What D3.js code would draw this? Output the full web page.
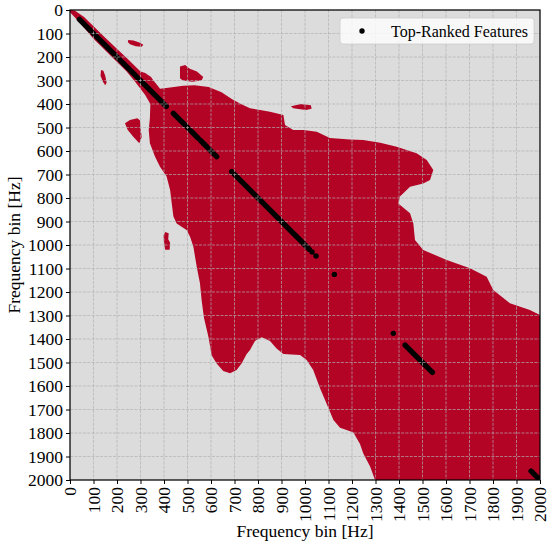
<!DOCTYPE html>
<html>
<head>
<meta charset="utf-8">
<script src="https://cdn.jsdelivr.net/npm/d3@7"></script>
<style>
  body { margin: 0; background: #fff; }
  svg text { font-family: "Liberation Serif", "Times New Roman", serif !important; }
</style>
</head>
<body>
<div id="chart"></div>
<script>
// tick values for both axes (Hz)
const binTicks = [0, 100, 200, 300, 400, 500, 600, 700, 800, 900, 1000,
                  1100, 1200, 1300, 1400, 1500, 1600, 1700, 1800, 1900, 2000];

// outline of the significant (red) area, [x bin, y bin] in Hz
const maskOutline = [
  [0, 0], [20, 2], [60, 30], [150, 118], [250, 213], [300, 262], [320, 268],
  [345, 285], [355, 300], [370, 318], [383, 335],
  [426, 330], [482, 322], [530, 320], [590, 328], [645, 350], [690, 380],
  [723, 398], [766, 418], [809, 426], [851, 433], [908, 447], [915, 489],
  [950, 511], [993, 511], [1050, 518], [1106, 545], [1191, 551], [1248, 553],
  [1320, 565], [1390, 582], [1475, 610], [1518, 638], [1546, 681], [1532, 723],
  [1503, 738], [1447, 752], [1404, 794], [1397, 823], [1447, 865], [1461, 908],
  [1468, 979], [1503, 1021], [1603, 1064], [1702, 1099], [1773, 1135],
  [1801, 1191], [1872, 1248], [1957, 1277], [2000, 1298],
  [2000, 2000], [1298, 2000],
  [1277, 1943], [1248, 1887], [1234, 1847], [1206, 1798], [1177, 1787],
  [1149, 1778], [1121, 1745], [1092, 1675], [1064, 1610], [1035, 1532],
  [1007, 1489], [979, 1468], [908, 1464], [879, 1440], [851, 1408], [816, 1393],
  [787, 1408], [766, 1447], [752, 1464], [730, 1504], [709, 1532], [681, 1546],
  [652, 1536], [624, 1504], [603, 1470], [589, 1390], [570, 1310], [560, 1234],
  [553, 1163], [539, 1092], [525, 1007], [511, 965], [496, 936], [454, 908],
  [440, 879], [433, 823], [426, 766], [411, 709], [383, 667], [362, 624],
  [340, 567], [335, 511], [340, 460], [342, 400], [320, 362], [277, 305],
  [241, 262], [100, 122], [40, 52], [0, 10]
];

// small detached patches
const maskIslands = [
  [[248, 128], [270, 130], [295, 138], [312, 148], [305, 156], [280, 154], [255, 146], [246, 136]],
  [[132, 255], [142, 258], [150, 280], [156, 310], [150, 320], [140, 305], [130, 280]],
  [[468, 240], [490, 234], [510, 250], [540, 262], [567, 285], [560, 300], [520, 305], [480, 300], [468, 290]],
  [[287, 461], [255, 468], [234, 482], [245, 510], [270, 540], [295, 567], [305, 540], [300, 500], [298, 470]],
  [[940, 410], [960, 405], [980, 400], [1000, 402], [1025, 405], [1028, 420], [1005, 426], [980, 422], [950, 418]],
  [[405, 945], [420, 950], [418, 975], [426, 990], [424, 1020], [405, 1020], [400, 990], [398, 960]]
];

// top-ranked features lie on the diagonal: consecutive runs and lone bins (Hz)
const featureRuns = [[40, 410], [440, 505], [515, 545], [555, 582], [592, 624],
                     [688, 1018], [1426, 1542], [1962, 1998]];
const featureSingles = [1030, 1047, 1125, 1376];

const width = 550, height = 550;
const margin = {top: 10, right: 10, bottom: 70, left: 70};
const tickFont = 17.5, titleFont = 17.5, legendFont = 16;

const svg = d3.select("#chart").append("svg")
  .attr("width", width).attr("height", height);

const x = d3.scaleLinear().domain([0, 2000]).range([margin.left, width - margin.right]);
const y = d3.scaleLinear().domain([0, 2000]).range([margin.top, height - margin.bottom]);

// background
svg.append("rect")
  .attr("x", x(0)).attr("y", y(0))
  .attr("width", x(2000) - x(0)).attr("height", y(2000) - y(0))
  .attr("fill", "#dddcdc");

svg.append("clipPath").attr("id", "plotclip")
  .append("rect")
  .attr("x", x(0)).attr("y", y(0))
  .attr("width", x(2000) - x(0)).attr("height", y(2000) - y(0));

const plot = svg.append("g").attr("clip-path", "url(#plotclip)");

const outline = d3.line().x(d => x(d[0])).y(d => y(d[1]));

plot.append("path")
  .attr("d", outline(maskOutline) + "Z")
  .attr("fill", "#b40426");

plot.selectAll(".island")
  .data(maskIslands)
  .join("path")
  .attr("class", "island")
  .attr("d", d => outline(d) + "Z")
  .attr("fill", "#b40426");

// features
plot.selectAll(".run")
  .data(featureRuns)
  .join("line")
  .attr("class", "run")
  .attr("x1", d => x(d[0])).attr("y1", d => y(d[0]))
  .attr("x2", d => x(d[1])).attr("y2", d => y(d[1]))
  .attr("stroke", "#000")
  .attr("stroke-width", 5.4)
  .attr("stroke-linecap", "round");

plot.selectAll(".single")
  .data(featureSingles)
  .join("circle")
  .attr("class", "single")
  .attr("cx", d => x(d)).attr("cy", d => y(d))
  .attr("r", 2.7)
  .attr("fill", "#000");

// dashed grid on top
const grid = svg.append("g");
grid.selectAll(".gx")
  .data(binTicks.slice(1, -1))
  .join("line")
  .attr("class", "gx")
  .attr("x1", d => x(d)).attr("x2", d => x(d))
  .attr("y1", y(0)).attr("y2", y(2000));
grid.selectAll(".gy")
  .data(binTicks.slice(1, -1))
  .join("line")
  .attr("class", "gy")
  .attr("y1", d => y(d)).attr("y2", d => y(d))
  .attr("x1", x(0)).attr("x2", x(2000));
grid.selectAll("line")
  .attr("stroke", "#b0b0b0")
  .attr("stroke-opacity", 0.85)
  .attr("stroke-width", 0.8)
  .attr("stroke-dasharray", "3,1.3");

// axes
const fmt = d3.format("d");
const xAxis = svg.append("g")
  .attr("transform", `translate(0,${y(2000)})`)
  .call(d3.axisBottom(x).tickValues(binTicks).tickFormat(fmt).tickSize(4).tickSizeOuter(0));
xAxis.selectAll(".tick text")
  .attr("transform", "rotate(-90)")
  .attr("x", -7).attr("y", 0).attr("dy", "0.32em")
  .attr("text-anchor", "end");

const yAxis = svg.append("g")
  .attr("transform", `translate(${x(0)},0)`)
  .call(d3.axisLeft(y).tickValues(binTicks).tickFormat(fmt).tickSize(4).tickPadding(3).tickSizeOuter(0));

[xAxis, yAxis].forEach(g => {
  g.attr("font-family", null).attr("font-size", null);
  g.selectAll(".tick text").attr("font-size", tickFont).attr("fill", "#000");
  g.selectAll(".tick line").attr("stroke", "#000").attr("stroke-width", 1);
  g.select(".domain").remove();
});

// frame
svg.append("rect")
  .attr("x", x(0)).attr("y", y(0))
  .attr("width", x(2000) - x(0)).attr("height", y(2000) - y(0))
  .attr("fill", "none").attr("stroke", "#000").attr("stroke-width", 1.25);

// axis titles
svg.append("text")
  .attr("x", (x(0) + x(2000)) / 2).attr("y", 537)
  .attr("text-anchor", "middle").attr("font-size", titleFont)
  .text("Frequency bin [Hz]");

svg.append("text")
  .attr("transform", `translate(20,${(y(0) + y(2000)) / 2}) rotate(-90)`)
  .attr("text-anchor", "middle").attr("font-size", titleFont)
  .text("Frequency bin [Hz]");

// legend
const legend = svg.append("g");
legend.append("rect")
  .attr("x", 340).attr("y", 18).attr("width", 194).attr("height", 26).attr("rx", 3)
  .attr("fill", "#fff").attr("fill-opacity", 0.8)
  .attr("stroke", "#cccccc").attr("stroke-width", 0.8);
legend.append("circle").attr("cx", 362).attr("cy", 31).attr("r", 2.7).attr("fill", "#000");
legend.append("text").attr("x", 391).attr("y", 36.5).attr("font-size", legendFont)
  .text("Top-Ranked Features");
</script>
</body>
</html>
